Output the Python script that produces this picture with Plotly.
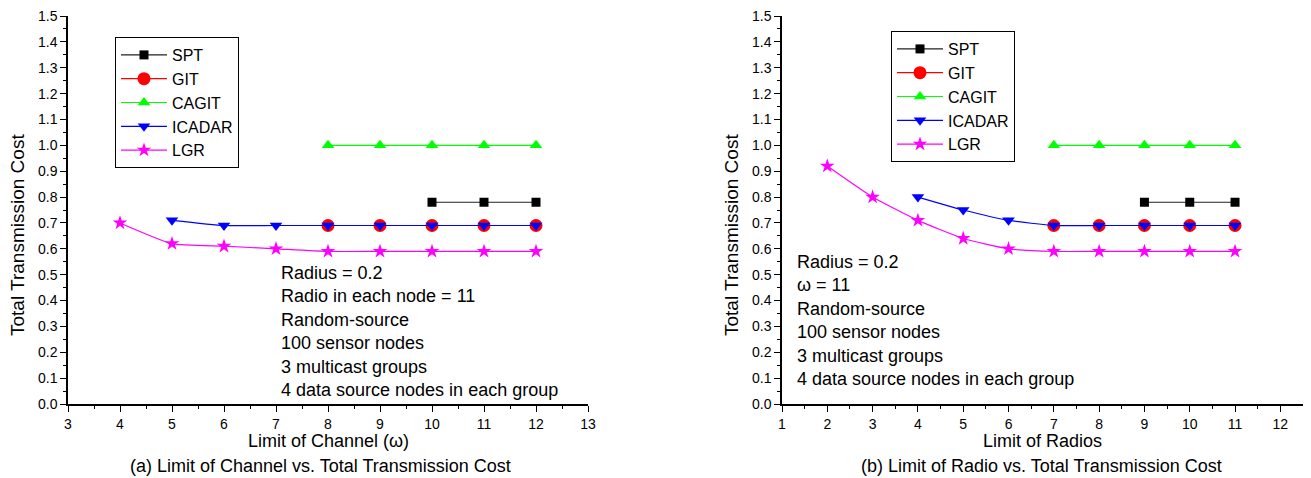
import plotly.graph_objects as go

# page is 1311x478; the html body has an 8px margin, so the figure is placed at (8, 8)
PAGE_W, PAGE_H = 1311, 478
OFF = 8
W, H = PAGE_W - OFF, PAGE_H - OFF
FONT = "Liberation Sans, Arial, sans-serif"

# ---- Data: (a) Limit of Channel ----
a_spt_x = [10, 11, 12]
a_spt_y = [0.78, 0.78, 0.78]
a_git_x = [8, 9, 10, 11, 12]
a_git_y = [0.69, 0.69, 0.69, 0.69, 0.69]
a_cagit_x = [8, 9, 10, 11, 12]
a_cagit_y = [1.0, 1.0, 1.0, 1.0, 1.0]
a_icadar_x = [5, 6, 7, 8, 9, 10, 11, 12]
a_icadar_y = [0.71, 0.69, 0.69, 0.69, 0.69, 0.69, 0.69, 0.69]
a_lgr_x = [4, 5, 6, 7, 8, 9, 10, 11, 12]
a_lgr_y = [0.70, 0.62, 0.61, 0.60, 0.59, 0.59, 0.59, 0.59, 0.59]

# ---- Data: (b) Limit of Radios ----
b_spt_x = [9, 10, 11]
b_spt_y = [0.78, 0.78, 0.78]
b_git_x = [7, 8, 9, 10, 11]
b_git_y = [0.69, 0.69, 0.69, 0.69, 0.69]
b_cagit_x = [7, 8, 9, 10, 11]
b_cagit_y = [1.0, 1.0, 1.0, 1.0, 1.0]
b_icadar_x = [4, 5, 6, 7, 8, 9, 10, 11]
b_icadar_y = [0.80, 0.75, 0.71, 0.69, 0.69, 0.69, 0.69, 0.69]
b_lgr_x = [2, 3, 4, 5, 6, 7, 8, 9, 10, 11]
b_lgr_y = [0.92, 0.80, 0.71, 0.64, 0.60, 0.59, 0.59, 0.59, 0.59, 0.59]

names = ["SPT", "GIT", "CAGIT", "ICADAR", "LGR"]
line_colors = ["#222222", "#ff0000", "#00ff00", "#0000ff", "#ff00ff"]
marker_colors = ["#000000", "#ff0000", "#00ff00", "#0000ff", "#ff00ff"]
symbols = ["square", "circle", "triangle-up", "triangle-down", "star"]
sizes = [9, 13, 11, 11, 11]

a_series = [(a_spt_x, a_spt_y), (a_git_x, a_git_y), (a_cagit_x, a_cagit_y),
            (a_icadar_x, a_icadar_y), (a_lgr_x, a_lgr_y)]
b_series = [(b_spt_x, b_spt_y), (b_git_x, b_git_y), (b_cagit_x, b_cagit_y),
            (b_icadar_x, b_icadar_y), (b_lgr_x, b_lgr_y)]

fig = go.Figure()

for series, xa, ya, lg in [(a_series, "x", "y", "legend"), (b_series, "x2", "y2", "legend2")]:
    for i, (xs, ys) in enumerate(series):
        fig.add_trace(go.Scatter(
            x=xs, y=ys, name=names[i], mode="lines+markers",
            xaxis=xa, yaxis=ya, legend=lg,
            line=dict(color=line_colors[i], width=1.2, shape="spline", smoothing=0.5),
            marker=dict(symbol=symbols[i], size=sizes[i], color=marker_colors[i],
                        line=dict(width=0)),
        ))

def px_x(p):
    return (p - OFF) / W

def px_y(p):
    return 1 - (p - OFF) / H

tickfont = dict(family=FONT, size=14, color="#000")
common_x = dict(showline=True, linecolor="#000", linewidth=1.5, ticks="outside",
                ticklen=6, tickwidth=1.2, tickcolor="#000", dtick=1,
                minor=dict(dtick=0.5, ticks="outside", ticklen=3, tickwidth=1.2, tickcolor="#000"),
                showgrid=False, zeroline=False, tickfont=tickfont, fixedrange=True,
                automargin=False, ticklabeloverflow="allow")
common_y = dict(showline=True, linecolor="#000", linewidth=1.5, ticks="outside",
                ticklen=6, tickwidth=1.2, tickcolor="#000", dtick=0.1, tick0=0,
                tickformat=".1f", range=[0, 1.5],
                minor=dict(dtick=0.05, ticks="outside", ticklen=3, tickwidth=1.2, tickcolor="#000"),
                showgrid=False, zeroline=False, tickfont=tickfont, fixedrange=True,
                automargin=False, ticklabeloverflow="allow")

ybot = px_y(404)
ytop = px_y(16)

legend_common = dict(xanchor="left", yanchor="top",
                     bordercolor="#000", borderwidth=1, bgcolor="white",
                     font=dict(family=FONT, size=16, color="#000"), itemwidth=46,
                     tracegroupgap=0)

fig.update_layout(
    width=W, height=H,
    margin=dict(l=0, r=0, t=0, b=0, pad=0, autoexpand=False),
    paper_bgcolor="white", plot_bgcolor="white",
    font=dict(family=FONT, size=18, color="#000"),
    xaxis=dict(common_x, domain=[px_x(68), px_x(588)], range=[3, 13], anchor="y"),
    yaxis=dict(common_y, domain=[ybot, ytop], anchor="x"),
    xaxis2=dict(common_x, domain=[px_x(782), px_x(1303)], range=[1, 12.5], anchor="y2"),
    yaxis2=dict(common_y, domain=[ybot, ytop], anchor="x2"),
    legend=dict(legend_common, x=px_x(115), y=px_y(37)),
    legend2=dict(legend_common, x=px_x(891), y=px_y(31)),
    showlegend=True,
)

annotations = [
    # parameter boxes
    dict(text="Radius = 0.2<br>Radio in each node = 11<br>Random-source<br>100 sensor nodes"
              "<br>3 multicast groups<br>4 data source nodes in each group",
         x=px_x(279), y=px_y(261), xanchor="left", yanchor="top", align="left"),
    dict(text="Radius = 0.2<br>\u03c9 = 11<br>Random-source<br>100 sensor nodes"
              "<br>3 multicast groups<br>4 data source nodes in each group",
         x=px_x(795), y=px_y(250), xanchor="left", yanchor="top", align="left"),
    # axis titles
    dict(text="Limit of Channel (\u03c9)", x=px_x(328), y=px_y(441),
         xanchor="center", yanchor="middle", font_size=18),
    dict(text="Limit of Radios", x=px_x(1042), y=px_y(441),
         xanchor="center", yanchor="middle", font_size=18),
    dict(text="Total Transmission Cost", x=px_x(17), y=px_y(235), textangle=-90,
         xanchor="center", yanchor="middle", font_size=19),
    dict(text="Total Transmission Cost", x=px_x(731), y=px_y(235), textangle=-90,
         xanchor="center", yanchor="middle", font_size=19),
    # captions
    dict(text="(a) Limit of Channel vs. Total Transmission Cost", x=px_x(320), y=px_y(466),
         xanchor="center", yanchor="middle"),
    dict(text="(b) Limit of Radio vs. Total Transmission Cost", x=px_x(1041), y=px_y(466),
         xanchor="center", yanchor="middle"),
]
for a in annotations:
    fs = a.pop("font_size", 18)
    a.update(xref="paper", yref="paper", showarrow=False,
             font=dict(family=FONT, size=fs, color="#000"))
fig.update_layout(annotations=annotations)

fig.write_html("out.html")
